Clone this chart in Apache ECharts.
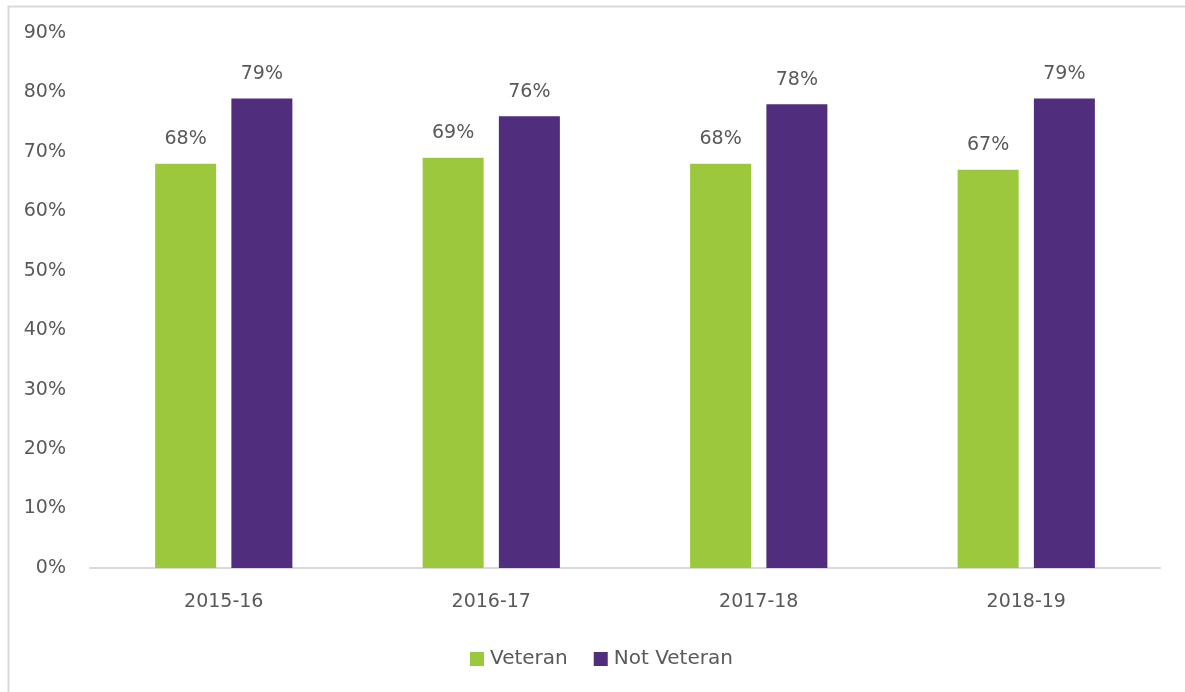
<!DOCTYPE html>
<html lang="en">
<head>
    <meta charset="UTF-8">
    <title>Veteran vs Not Veteran</title>
</head>
<style>
    html, body { margin: 0; padding: 0; background: #fff; }
    #bar { width: 1185px; height: 692px; }
</style>
<body>
<div id="bar"></div>
</body>
<script src="https://cdn.jsdelivr.net/npm/echarts@6/dist/echarts.min.js"></script>
<script>
    var years = ['2015-16', '2016-17', '2017-18', '2018-19'];
    var veteran = [68, 69, 68, 67];
    var notVeteran = [79, 76, 78, 79];
    var yTicks = [0, 10, 20, 30, 40, 50, 60, 70, 80, 90];

    var font = 'DejaVu Sans';
    var textColor = '#595959';
    var myChart = echarts.init(document.getElementById('bar'));

    var option = {
        animation: false,
        textStyle: { fontFamily: font },
        grid: { left: 90, right: 25, top: 33, bottom: 124 },
        legend: {
            left: 465,
            top: 644,
            itemWidth: 14,
            itemHeight: 14,
            itemGap: 26,
            icon: 'rect',
            textStyle: { color: textColor, fontSize: 20, fontFamily: font, padding: [0, 0, 0, 1] },
            data: ['Veteran', 'Not Veteran']
        },
        xAxis: {
            type: 'category',
            data: years,
            axisTick: { show: false },
            axisLine: { lineStyle: { color: '#d9d9d9', width: 2 } },
            axisLabel: { color: textColor, fontSize: 19, margin: 25 }
        },
        yAxis: {
            type: 'value',
            min: yTicks[0],
            max: yTicks[yTicks.length - 1],
            interval: 10,
            splitLine: { show: false },
            axisLine: { show: false },
            axisTick: { show: false },
            axisLabel: {
                color: textColor,
                fontSize: 19,
                margin: 24,
                formatter: '{value}%'
            }
        },
        series: [{
            name: 'Veteran',
            type: 'bar',
            data: veteran,
            barWidth: 61,
            barGap: '25%',
            itemStyle: { color: '#9bc83c' },
            label: {
                show: true,
                position: 'top',
                distance: 15,
                color: textColor,
                fontSize: 19,
                formatter: '{c}%'
            }
        }, {
            name: 'Not Veteran',
            type: 'bar',
            data: notVeteran,
            barWidth: 61,
            itemStyle: { color: '#512d7e' },
            label: {
                show: true,
                position: 'top',
                distance: 15,
                color: textColor,
                fontSize: 19,
                formatter: '{c}%'
            }
        }],
        graphic: [{
            type: 'rect',
            left: 6,
            top: 4,
            shape: { width: 1200, height: 720 },
            style: { fill: 'none', stroke: '#d9d9d9', lineWidth: 2 },
            silent: true
        }]
    };
    myChart.setOption(option);
</script>
</html>
